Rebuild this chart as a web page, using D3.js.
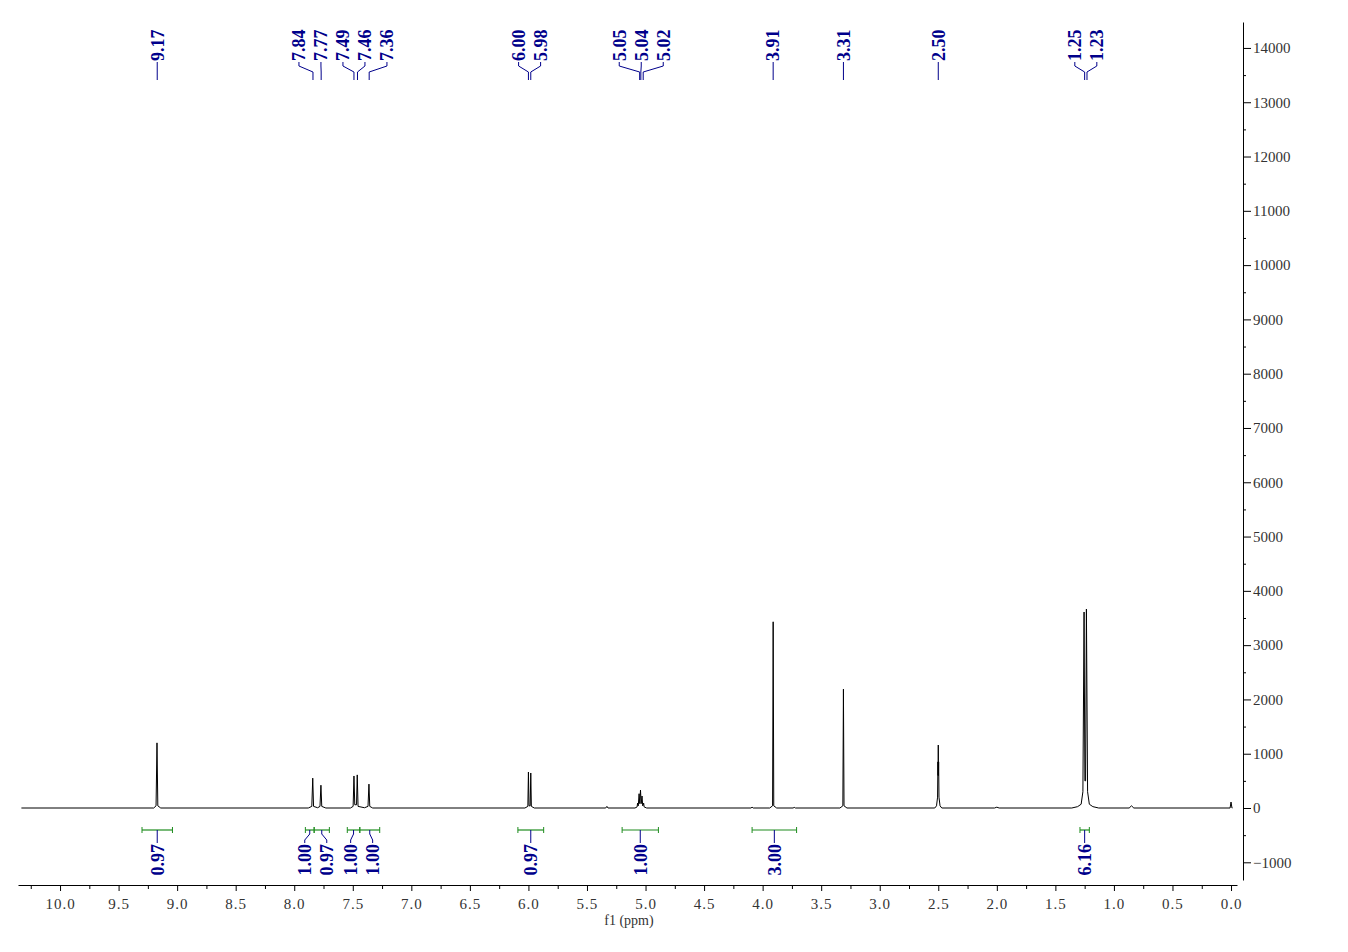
<!DOCTYPE html>
<html><head><meta charset="utf-8">
<script src="https://cdn.jsdelivr.net/npm/d3@7"></script>
<style>body{margin:0;background:#fff} svg{display:block}</style>
</head><body><svg id="c" width="1348" height="952"></svg>
<script>
// ---- data ----
const spectrumPpm = [10.33, 9.20, 9.18, 9.172, 9.165, 9.14,
  7.88, 7.85, 7.842, 7.835, 7.80, 7.78, 7.772, 7.765, 7.73,
  7.52, 7.497, 7.49, 7.483, 7.468, 7.462, 7.455, 7.40, 7.37, 7.362, 7.355, 7.33,
  6.03, 6.005, 6.000, 5.995, 5.985, 5.980, 5.975, 5.95,
  5.34, 5.33, 5.32,
  5.09, 5.072, 5.068, 5.062, 5.055, 5.049, 5.043, 5.037, 5.030, 5.024, 5.016, 5.012, 4.99,
  4.10, 4.09, 4.08,
  3.94, 3.915, 3.910, 3.905, 3.88,
  3.74, 3.73, 3.72,
  3.34, 3.315, 3.310, 3.305, 3.28,
  2.53, 2.515, 2.506, 2.503, 2.5015, 2.500, 2.4985, 2.497, 2.494, 2.485, 2.47,
  2.02, 2.00, 1.98,
  1.36, 1.31, 1.28, 1.265, 1.255, 1.248, 1.242, 1.235, 1.225, 1.21, 1.18, 1.13,
  0.87, 0.85, 0.83,
  0.008, 0.0, -0.008, -0.012];
const spectrumInt = [0, 0, 40, 1200, 40, 0,
  0, 30, 550, 30, 5, 30, 420, 30, 0,
  0, 30, 590, 60, 60, 610, 30, 5, 30, 440, 30, 0,
  0, 30, 663, 40, 40, 645, 30, 0,
  0, 30, 0,
  0, 20, 90, 40, 263, 80, 331, 80, 221, 40, 90, 20, 0,
  0, 15, 0,
  0, 40, 3430, 40, 0,
  0, 12, 0,
  0, 40, 2190, 40, 0,
  0, 40, 200, 850, 600, 1160, 600, 850, 200, 40, 0,
  0, 15, 0,
  0, 25, 70, 300, 3610, 500, 500, 3665, 300, 70, 25, 0,
  0, 40, 0,
  0, 110, 0, 0];

const peakLabels = [9.17, 7.84, 7.77, 7.49, 7.46, 7.36, 6.00, 5.98, 5.05, 5.04, 5.02, 3.91, 3.31, 2.50, 1.25, 1.23];

const intFrom   = [9.30, 7.905, 7.83, 7.547, 7.44, 6.09, 5.20, 4.09, 1.29];
const intTo     = [9.04, 7.83, 7.70, 7.44, 7.27, 5.87, 4.89, 3.71, 1.21];
const intValues = ["0.97", "1.00", "0.97", "1.00", "1.00", "0.97", "1.00", "3.00", "6.16"];

const xTickValues  = [10.0, 9.5, 9.0, 8.5, 8.0, 7.5, 7.0, 6.5, 6.0, 5.5, 5.0, 4.5, 4.0, 3.5, 3.0, 2.5, 2.0, 1.5, 1.0, 0.5, 0.0];
const xMinorValues = [10.25, 9.75, 9.25, 8.75, 8.25, 7.75, 7.25, 6.75, 6.25, 5.75, 5.25, 4.75, 4.25, 3.75, 3.25, 2.75, 2.25, 1.75, 1.25, 0.75, 0.25];
const yTickValues  = [14000, 13000, 12000, 11000, 10000, 9000, 8000, 7000, 6000, 5000, 4000, 3000, 2000, 1000, 0, -1000];
const yMinorValues = [13500, 12500, 11500, 10500, 9500, 8500, 7500, 6500, 5500, 4500, 3500, 2500, 1500, 500, -500];

// ---- drawing ----
const svg = d3.select("#c");
const NAVY = "#00008B", GREEN = "#1E8C1E";
const tickFont = "'Liberation Serif', serif";
const labFont = "'Liberation Serif', 'Times New Roman', serif";

const x = d3.scaleLinear().domain([10.359, -0.051]).range([18, 1237]);
const y = d3.scaleLinear().domain([14478, -1326]).range([22, 880]);

// x axis
const xAxisY = 885;
const gx = svg.append("g").attr("transform", `translate(0,${xAxisY})`)
  .call(d3.axisBottom(x).tickValues(xTickValues).tickSize(6).tickSizeOuter(0).tickPadding(7)
    .tickFormat(d => d.toFixed(1)));
gx.selectAll("text").attr("font-family", tickFont).attr("font-size", 15).attr("fill", "#333")
  .attr("letter-spacing", 1);
gx.select(".domain").attr("stroke", "#000");
const gxm = svg.append("g").attr("transform", `translate(0,${xAxisY})`)
  .call(d3.axisBottom(x).tickValues(xMinorValues).tickSize(4).tickFormat(""));
gxm.select(".domain").remove();
svg.append("text").attr("x", 629).attr("y", 925).attr("text-anchor", "middle")
  .attr("font-family", tickFont).attr("font-size", 14).attr("fill", "#333").text("f1 (ppm)");

// y axis (right)
const yAxisX = 1243;
const gy = svg.append("g").attr("transform", `translate(${yAxisX},0)`)
  .call(d3.axisRight(y).tickValues(yTickValues).tickSize(8).tickSizeOuter(0).tickPadding(2)
    .tickFormat(d => d < 0 ? "\u2212" + Math.abs(d) : String(d)));
gy.selectAll("text").attr("font-family", tickFont).attr("font-size", 15).attr("fill", "#333");
const gym = svg.append("g").attr("transform", `translate(${yAxisX},0)`)
  .call(d3.axisRight(y).tickValues(yMinorValues).tickSize(3).tickFormat(""));
gym.select(".domain").remove();

// spectrum
const pts = spectrumPpm.map((p, i) => [p, spectrumInt[i]]);
svg.append("path").datum(pts)
  .attr("d", d3.line().x(d => x(d[0])).y(d => y(d[1])))
  .attr("fill", "none").attr("stroke", "#000").attr("stroke-width", 1);

// label spreading helper
function spread(xs, sp) {
  const clusters = [];
  xs.forEach((v, i) => {
    clusters.push({ xs: [v], idx: [i] });
    let merged = true;
    while (merged && clusters.length > 1) {
      merged = false;
      const c = clusters[clusters.length - 1], p = clusters[clusters.length - 2];
      const pc = d3.mean(p.xs), cc = d3.mean(c.xs);
      const pEnd = pc + (p.xs.length - 1) * sp / 2;
      const cStart = cc - (c.xs.length - 1) * sp / 2;
      if (cStart < pEnd + sp) {
        clusters.pop();
        p.xs = p.xs.concat(c.xs); p.idx = p.idx.concat(c.idx);
        merged = true;
      }
    }
  });
  const out = new Array(xs.length);
  clusters.forEach(c => {
    const m = d3.mean(c.xs), n = c.xs.length;
    c.idx.forEach((id, k) => { out[id] = m + (k - (n - 1) / 2) * sp; });
  });
  return out;
}

// peak labels
const pxs = peakLabels.map(p => x(p));
const plx = spread(pxs, 22);
const gp = svg.append("g");
peakLabels.forEach((p, i) => {
  const lx = plx[i], px = pxs[i];
  gp.append("path")
    .attr("d", `M${lx},62 L${lx},66 L${px},72 L${px},80`)
    .attr("fill", "none").attr("stroke", NAVY).attr("stroke-width", 1);
  gp.append("text").attr("transform", `translate(${lx},61) rotate(-90)`)
    .attr("dy", "0.35em").attr("text-anchor", "start")
    .attr("font-family", labFont).attr("font-weight", "bold").attr("font-size", 18)
    .attr("fill", NAVY).text(p.toFixed(2));
});

// integrals
const barY = 830;
const icx = intFrom.map((f, i) => (x(f) + x(intTo[i])) / 2);
const ilx = spread(icx, 22);
const gi = svg.append("g");
intFrom.forEach((f, i) => {
  const x0 = x(f), x1 = x(intTo[i]);
  gi.append("line").attr("x1", x0).attr("x2", x1).attr("y1", barY).attr("y2", barY)
    .attr("stroke", GREEN).attr("stroke-width", 1.2);
  [x0, x1].forEach(xx => gi.append("line").attr("x1", xx).attr("x2", xx)
    .attr("y1", barY - 3).attr("y2", barY + 3).attr("stroke", GREEN).attr("stroke-width", 1));
  const lx = ilx[i], cx = icx[i];
  gi.append("path")
    .attr("d", `M${cx},${barY} L${cx},${barY + 4} L${lx},${barY + 10} L${lx},${barY + 13}`)
    .attr("fill", "none").attr("stroke", NAVY).attr("stroke-width", 1);
  gi.append("text").attr("transform", `translate(${lx},844) rotate(-90)`)
    .attr("dy", "0.35em").attr("text-anchor", "end")
    .attr("font-family", labFont).attr("font-weight", "bold").attr("font-size", 18)
    .attr("fill", NAVY).text(intValues[i]);
});
</script></body></html>
